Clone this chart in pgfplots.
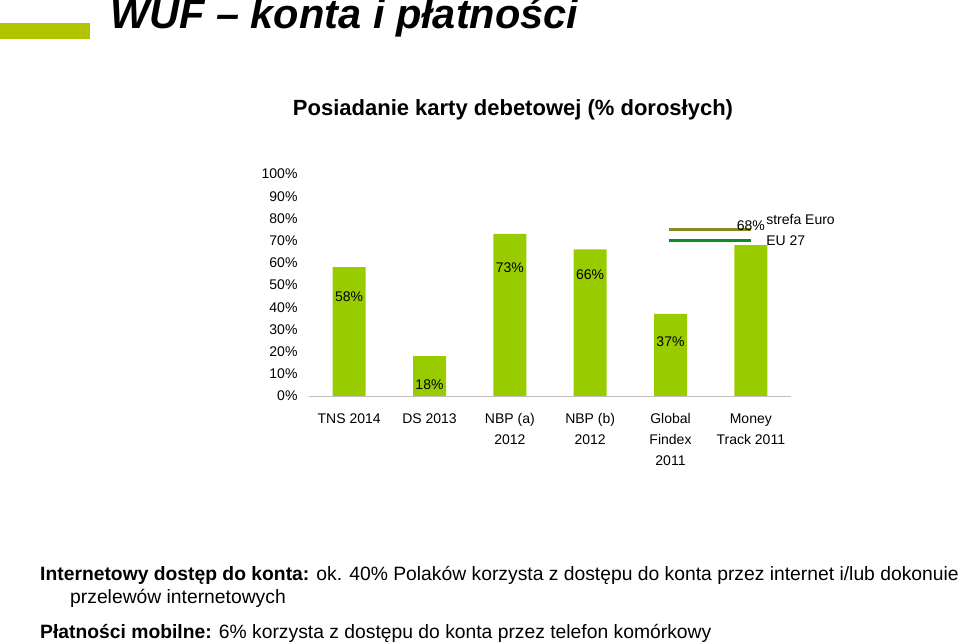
\documentclass[border=0pt]{standalone}
\usepackage{pgfplots}
\pgfplotsset{compat=1.18}
\usepackage{fontspec}
\setmainfont{Liberation Sans}
\definecolor{barg}{HTML}{99CC00}
\definecolor{oliveline}{HTML}{8A8A22}
\definecolor{dgreen}{HTML}{128A22}
\definecolor{topbar}{HTML}{B0C400}
\definecolor{axgray}{HTML}{BFBFBF}
\begin{document}
\begin{tikzpicture}[x=1pt,y=1pt]
\path[use as bounding box] (0,0) rectangle (959,642);
\coordinate (A) at (309,246);
\fill[topbar] (0,603) rectangle (90,619);
\node[anchor=base west, inner sep=0, font=\fontsize{41.5}{42}\selectfont\bfseries\itshape] at (110,613) {WUF – konta i płatności};
\node[inner sep=0, font=\fontsize{22}{24}\selectfont\bfseries] at (513,532) {Posiadanie karty debetowej (\% dorosłych)};
\begin{axis}[
  scale only axis, width=482pt, height=222pt,
  at={(A)}, anchor=south west,
  xmin=-0.5, xmax=5.5, ymin=0, ymax=100,
  clip=false,
  axis lines*=left,
  y axis line style={draw=none},
  x axis line style={draw=axgray},
  ytick={0,10,...,100},
  yticklabels={0\%,10\%,20\%,30\%,40\%,50\%,60\%,70\%,80\%,90\%,100\%},
  ytick style={draw=none},
  yticklabel style={font=\fontsize{14}{16}\selectfont, xshift=-8pt},
  xtick={0,...,5},
  xticklabels={TNS 2014, DS 2013, {NBP (a)\\2012}, {NBP (b)\\2012}, {Global\\Findex\\2011}, {Money\\Track 2011}},
  xtick style={draw=none},
  xticklabel style={font=\fontsize{14}{21}\selectfont, align=center, yshift=-14pt},
  extra x ticks={-0.5,0.5,1.5,2.5,3.5,4.5,5.5},
  extra x tick labels={},
  extra x tick style={major tick length=5pt, tick align=outside, tick style={draw=axgray}},
]
\addplot[ybar, bar width=33pt, fill=barg, draw=none] coordinates {(0,58) (1,18) (2,73) (3,66) (4,37) (5,68)};
\addplot[oliveline, line width=3pt] coordinates {(3.98,75) (5.0,75)};
\addplot[dgreen, line width=3pt] coordinates {(3.98,70) (5.0,70)};
\begin{scope}[every node/.style={font=\fontsize{14}{16}\selectfont}]
\node at (axis cs:0,44.6) {58\%};
\node at (axis cs:1,5) {18\%};
\node at (axis cs:2,58) {73\%};
\node at (axis cs:3,54.5) {66\%};
\node at (axis cs:4,24.3) {37\%};
\node at (axis cs:5,76.6) {68\%};
\node[anchor=west, inner sep=0] at (axis cs:5.19,79.7) {strefa Euro};
\node[anchor=west, inner sep=0] at (axis cs:5.19,69.8) {EU 27};
\end{scope}
\end{axis}
\begin{scope}[every node/.style={anchor=west, inner sep=0, font=\fontsize{19.3}{22}\selectfont}]
\node at (40,67) {\textbf{Internetowy dostęp do konta:} ok. 40\% Polaków korzysta z dostępu do konta przez internet i/lub dokonuie};
\node at (70,44) {przelewów internetowych};
\node at (40,9) {\textbf{Płatności mobilne:} 6\% korzysta z dostępu do konta przez telefon komórkowy};
\end{scope}
\end{tikzpicture}
\end{document}
